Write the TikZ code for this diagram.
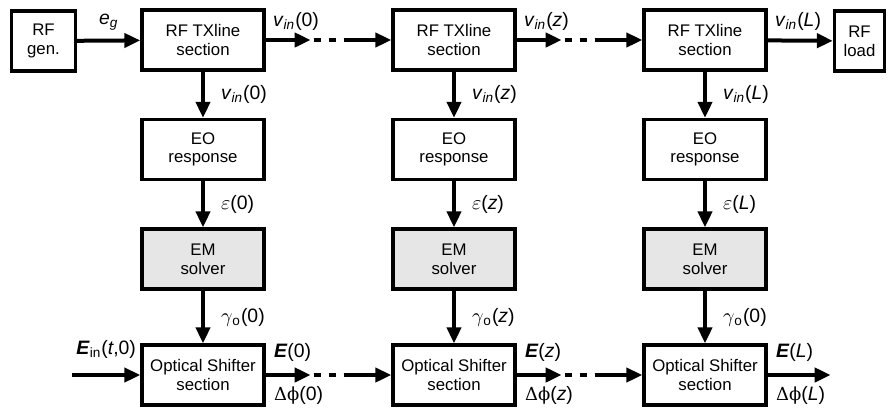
\documentclass[tikz,border=0pt]{standalone}
\usepackage{fontspec}
\setmainfont{Liberation Sans}
\newfontfamily\grk{DejaVu Serif}
\usetikzlibrary{calc,arrows.meta}
\definecolor{emgray}{RGB}{230,230,230}
\tikzset {>={Triangle[length=8pt,width=7pt]}}
\tikzset{
  blk/.style={draw,line width=1.65pt,minimum width=61pt,minimum height=30pt,
    inner sep=1pt,align=center,font=\fontsize{8.4}{9.3}\selectfont},
  emblk/.style={blk,fill=emgray},
  flow/.style={->,line width=2pt},
  gap/.style={line width=2pt,dash pattern=on 3.5pt off 4pt},
  lab/.style={inner sep=0pt,font=\fontsize{9.7}{11}\selectfont}}
\newcommand{\vin}[1]{\textit{v}\textsubscript{\textit{in}}(#1)}
\newcommand{\Ef}[1]{\textbf{\textit{E}}(#1)}
\newcommand{\dphi}[1]{{\grk\fontsize{9}{11}\selectfont Δϕ}(#1)}

\begin{document}
\begin{tikzpicture}[x=0.5pt,y=-0.5pt]
\useasboundingbox (0,0) rectangle (888,408);
\node[blk,minimum width=32pt] (gen) at (43.5,41) {RF\\gen.};
\node[blk,minimum width=25pt] (load) at (859.5,41) {RF\\load};
\foreach \c/\x/\a/\g in {1/203/0/0,2/454/\textit{z}/\textit{z},3/705/\textit{L}/0} {
  \node[blk] (tx\c) at (\x,40) {RF TXline\\section};
  \node[blk] (eo\c) at (\x,149.5) {EO\\response};
  \node[emblk] (em\c) at (\x,259) {EM\\solver};
  \node[blk] (os\c) at (\x,375) {Optical Shifter\\section};
  \draw[flow] (tx\c) -- node[lab,right=8pt] {\vin{\a}} (eo\c);
  \draw[flow] (eo\c) -- node[lab,right=8pt] {$\varepsilon$(\a)} (em\c);
  \draw[flow] (em\c) -- node[lab,right=8pt] {$\gamma$\textsubscript{o}(\g)} (os\c);
  \node[lab,anchor=south west] (vt\c) at ($(tx\c.east)+(7,-9)$) {\vin{\a}};
  \node[lab,anchor=south west] (et\c) at ($(os\c.east)+(8,-13)$) {\Ef{\a}};
  \node[lab,anchor=north west] (dp\c) at ($(os\c.east)+(8,11)$) {\dphi{\a}};
}
\foreach \c/\n in {1/2,2/3} {
  \coordinate (tp\c) at ($(tx\c.east)+(45,0)$);
  \coordinate (tq\c) at ($(tx\c.east)+(48,0)$);
  \coordinate (tr\c) at ($(tx\c.east)+(78,0)$);
  \draw[flow] (tx\c) -- (tp\c);
  \draw[gap] (tq\c) -- (tr\c);
  \draw[flow] (tr\c) -- (tx\n);
  \coordinate (op\c) at ($(os\c.east)+(45,0)$);
  \coordinate (oq\c) at ($(os\c.east)+(48,0)$);
  \coordinate (or\c) at ($(os\c.east)+(78,0)$);
  \draw[flow] (os\c) -- (op\c);
  \draw[gap] (oq\c) -- (or\c);
  \draw[flow] (or\c) -- (os\n);
}
\draw[flow] (gen) -- node[lab,above=4pt] {\textit{e}\textsubscript{\textit{g}}} (tx1);
\draw[flow] (tx3) -- (load);
\coordinate (ein) at (72,375);
\coordinate (eout) at ($(os3.east)+(63,0)$);
\draw[flow] (ein) -- node[lab,above=7pt] {\textbf{\textit{E}}\textsubscript{in}(\textit{t},0)} (os1);
\draw[flow] (os3) -- (eout);
\end{tikzpicture}
\end{document}
